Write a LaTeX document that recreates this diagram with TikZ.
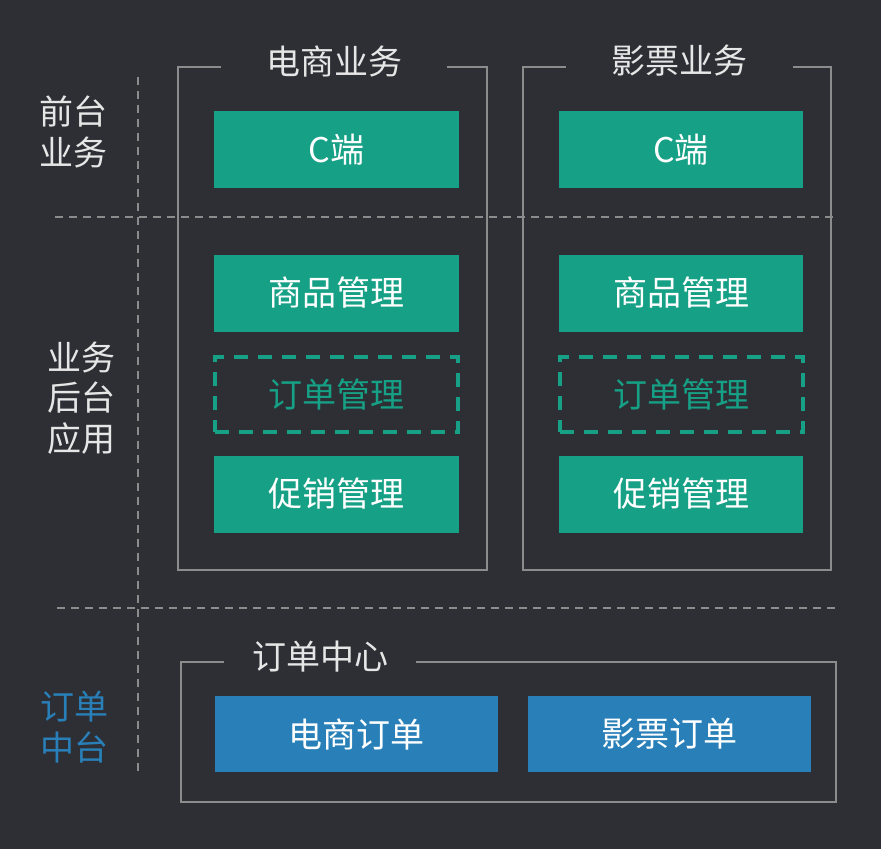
\documentclass[tikz,border=0pt]{standalone}
\usepackage{fontspec}
\setmainfont{Noto Sans CJK SC}
\usepackage{xcolor}
\usetikzlibrary{positioning}
\definecolor{bg}{HTML}{2E2F35}
\definecolor{tealc}{HTML}{16A085}
\definecolor{bluec}{HTML}{2980B9}
\definecolor{linec}{HTML}{8C8C8C}
\definecolor{txtc}{HTML}{E6E6E6}

\begin{document}
\begin{tikzpicture}[x=1pt, y=-1pt,
    frame/.style={draw=linec, line width=2pt, inner sep=0},
    ttl/.style={fill=bg, text=txtc, inner sep=0, minimum height=30, font=\fontsize{34}{40}\selectfont},
    lbl/.style={text=txtc, align=center, inner sep=0, font=\fontsize{34}{40.5}\selectfont},
    gbox/.style={fill=tealc, text=white, minimum width=245, minimum height=77, inner sep=0, font=\fontsize{34}{40}\selectfont},
    dbox/.style={draw=tealc, line width=4pt, dash pattern=on 14pt off 10pt, text=tealc, minimum width=243, minimum height=75, inner sep=0, font=\fontsize{34}{40}\selectfont},
    bbox/.style={fill=bluec, text=white, minimum width=283, minimum height=76, inner sep=0, font=\fontsize{34}{40}\selectfont},
    div/.style={draw=linec, line width=2pt, dash pattern=on 8pt off 6pt}]
                        \fill[bg] (0,0) rectangle (881,849);
                        \useasboundingbox (0,0) rectangle (881,849);
                        \node[frame, minimum width=309, minimum height=503] (f1) at (332.5,318.5) {};
                        \node[frame, minimum width=308, minimum height=503] (f2) at (677,318.5) {};
                        \node[frame, minimum width=655, minimum height=140] (f3) at (508.5,732) {};
                        \node[ttl, minimum width=226] (t1) at (334,61) {电商业务};
                        \node[ttl, minimum width=227] (t2) at (679.5,61) {影票业务};
                        \node[ttl, minimum width=192] (t3) at (320,657) {订单中心};
                        \node[lbl] (l1) at (73.5,132) {前台\\业务};
                        \node[lbl] (l2) at (81.5,398) {业务\\后台\\应用};
                        \node[lbl, text=bluec] (l3) at (74.5,727) {订单\\中台};
                        \coordinate (v1) at (138,77);
                        \coordinate (v2) at (138,772);
                        \coordinate (h1) at (55,217);
                        \coordinate (h2) at (833,217);
                        \coordinate (h3) at (57,608);
                        \coordinate (h4) at (835,608);
                        \draw[div] (v1) -- (v2) (h1) -- (h2) (h3) -- (h4);
                        \node[gbox] (a1) at (336.5,149.5) {C端};
                        \node[gbox] (a2) at (336.5,293) {商品管理};
                        \node[dbox] (a3) at (336,394.5) {订单管理};
                        \node[gbox] (a4) at (336.5,494) {促销管理};
                        \node[gbox, minimum width=244] (b1) at (681,149.5) {C端};
                        \node[gbox, minimum width=244] (b2) at (681,293) {商品管理};
                        \node[dbox] (b3) at (681,394.5) {订单管理};
                        \node[gbox, minimum width=244] (b4) at (681,494) {促销管理};
                        \node[bbox] (o1) at (356.5,734) {电商订单};
                        \node[bbox] (o2) at (669.5,734) {影票订单};
                    \end{tikzpicture}
\end{document}
